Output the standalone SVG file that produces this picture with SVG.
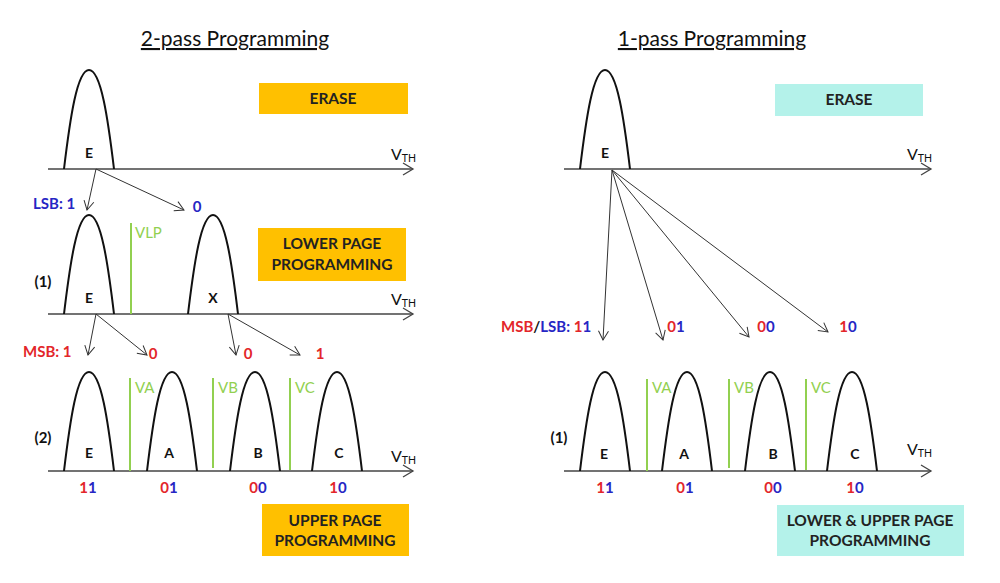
<svg xmlns="http://www.w3.org/2000/svg" xmlns:xlink="http://www.w3.org/1999/xlink" width="1000" height="583" viewBox="0 0 1000 583">
<style>
text{font-family:Lato,"Open Sans","Liberation Sans",sans-serif}
.title{font-size:21px;fill:#111;text-decoration:underline}
.bell{fill:none;stroke:#111;stroke-width:2}
.axis{stroke:#444;stroke-width:1.3;fill:none}
.ah{stroke:#444;stroke-width:1.3;fill:none}
.conn{stroke:#333;stroke-width:1;fill:none;marker-end:url(#arr)}
.vl{stroke:#92D050;stroke-width:2}
.vt{fill:#92D050;font-size:15px}
.lbl{font-size:14px;font-weight:bold;fill:#111;text-anchor:middle}
.v{font-size:16px;fill:#111}
.sub{font-size:10.5px}
.code{font-size:15px;font-weight:bold;text-anchor:middle}
.r{fill:#E3262A}
.b{fill:#2626C4}
.k{fill:#111}
.box{font-size:15.5px;font-weight:bold;fill:#222;text-anchor:middle}
.org{fill:#FFC000}
.cy{fill:#B4F2EA}
</style>
<defs>
<path id="bell" d="M0,0 C6,-50 13,-99 25,-99 C37,-99 44,-50 50,0"/>
<path id="head" d="M-10,-6 L0,0 L-10,6"/>
<marker id="arr" markerUnits="userSpaceOnUse" markerWidth="12" markerHeight="12" refX="10" refY="6" orient="auto">
<path d="M1,1 L10,6 L1,11" fill="none" stroke="#333" stroke-width="1"/>
</marker>
</defs>

<g id="left-title"><text class="title" x="235" y="46" text-anchor="middle">2-pass Programming</text></g>
<g id="right-title"><text class="title" x="712" y="46" text-anchor="middle">1-pass Programming</text></g>

<!-- Left row 0: erase -->
<g id="l-axis0">
<line class="axis" x1="48" y1="169" x2="413" y2="169"/>
<use href="#head" class="ah" x="413" y="169"/>
<text class="v" x="391" y="160">V<tspan class="sub" dy="2">TH</tspan></text>
</g>
<g id="l-E0"><use href="#bell" class="bell" x="64" y="169"/><text class="lbl" x="89" y="158">E</text></g>
<g id="l-erase-box"><rect class="org" x="259" y="83" width="149" height="31"/><text class="box" x="333" y="104">ERASE</text></g>

<!-- Left row 1 -->
<g id="l-axis1">
<line class="axis" x1="48" y1="314" x2="413" y2="314"/>
<use href="#head" class="ah" x="413" y="314"/>
<text class="v" x="391" y="305">V<tspan class="sub" dy="2">TH</tspan></text>
<text class="lbl" x="43" y="287" style="font-size:15px">(1)</text>
</g>
<g id="l-E1"><use href="#bell" class="bell" x="64" y="314"/><text class="lbl" x="89" y="303">E</text></g>
<g id="l-VLP"><line class="vl" x1="131" y1="223" x2="131" y2="314"/><text class="vt" x="135" y="238">VLP</text></g>
<g id="l-X1"><use href="#bell" class="bell" x="188" y="314"/><text class="lbl" x="213" y="303">X</text></g>
<g id="l-lower-box"><rect class="org" x="258" y="228" width="148" height="53"/><text class="box" x="332" y="249">LOWER PAGE</text><text class="box" x="332" y="270">PROGRAMMING</text></g>

<!-- Left row 2 -->
<g id="l-axis2">
<line class="axis" x1="48" y1="471" x2="413" y2="471"/>
<use href="#head" class="ah" x="413" y="471"/>
<text class="v" x="391" y="462">V<tspan class="sub" dy="2">TH</tspan></text>
<text class="lbl" x="43" y="443" style="font-size:15px">(2)</text>
</g>
<g id="l-E2"><use href="#bell" class="bell" x="64" y="471"/><text class="lbl" x="89" y="458">E</text></g>
<g id="l-VA"><line class="vl" x1="130" y1="378" x2="130" y2="471"/><text class="vt" x="135" y="393">VA</text></g>
<g id="l-A2"><use href="#bell" class="bell" x="147" y="471"/><text class="lbl" x="169" y="458">A</text></g>
<g id="l-VB"><line class="vl" x1="213" y1="378" x2="213" y2="468"/><text class="vt" x="218" y="393">VB</text></g>
<g id="l-B2"><use href="#bell" class="bell" x="230" y="471"/><text class="lbl" x="258" y="458">B</text></g>
<g id="l-VC"><line class="vl" x1="290" y1="378" x2="290" y2="470"/><text class="vt" x="295" y="393">VC</text></g>
<g id="l-C2"><use href="#bell" class="bell" x="312" y="471"/><text class="lbl" x="339" y="458">C</text></g>
<g id="l-codes">
<text class="code" x="88" y="493"><tspan class="r">1</tspan><tspan class="b">1</tspan></text>
<text class="code" x="169" y="493"><tspan class="r">0</tspan><tspan class="b">1</tspan></text>
<text class="code" x="258" y="493"><tspan class="r">0</tspan><tspan class="b">0</tspan></text>
<text class="code" x="338" y="493"><tspan class="r">1</tspan><tspan class="b">0</tspan></text>
</g>
<g id="l-upper-box"><rect class="org" x="262" y="504" width="147" height="52"/><text class="box" x="335" y="526">UPPER PAGE</text><text class="box" x="335" y="546">PROGRAMMING</text></g>

<!-- Left transition labels -->
<g id="l-labels">
<text class="code b" x="33" y="209" style="text-anchor:start">LSB: 1</text>
<text class="code b" x="197" y="212">0</text>
<text class="code r" x="23" y="357" style="text-anchor:start">MSB: 1</text>
<text class="code r" x="153" y="359">0</text>
<text class="code r" x="248" y="359">0</text>
<text class="code r" x="320" y="359">1</text>
</g>

<!-- Right top -->
<g id="r-axis0">
<line class="axis" x1="564" y1="169" x2="931" y2="169"/>
<use href="#head" class="ah" x="931" y="169"/>
<text class="v" x="907" y="160">V<tspan class="sub" dy="2">TH</tspan></text>
</g>
<g id="r-E0"><use href="#bell" class="bell" x="580" y="169"/><text class="lbl" x="605" y="158">E</text></g>
<g id="r-erase-box"><rect class="cy" x="775" y="84" width="148" height="32"/><text class="box" x="849" y="105">ERASE</text></g>
<g id="r-labels">
<text class="code" x="501" y="332" style="text-anchor:start"><tspan class="r">MSB</tspan><tspan class="k">/</tspan><tspan class="b">LSB: </tspan><tspan class="r">1</tspan><tspan class="b">1</tspan></text>
<text class="code" x="676" y="332"><tspan class="r">0</tspan><tspan class="b">1</tspan></text>
<text class="code" x="766" y="332"><tspan class="r">0</tspan><tspan class="b">0</tspan></text>
<text class="code" x="848" y="332"><tspan class="r">1</tspan><tspan class="b">0</tspan></text>
</g>

<!-- Right bottom -->
<g id="r-axis1">
<line class="axis" x1="564" y1="471" x2="931" y2="471"/>
<use href="#head" class="ah" x="931" y="471"/>
<text class="v" x="907" y="455">V<tspan class="sub" dy="2">TH</tspan></text>
<text class="lbl" x="559" y="443" style="font-size:15px">(1)</text>
</g>
<g id="r-E1"><use href="#bell" class="bell" x="580" y="471"/><text class="lbl" x="604" y="459">E</text></g>
<g id="r-VA"><line class="vl" x1="647" y1="379" x2="647" y2="471"/><text class="vt" x="652" y="393">VA</text></g>
<g id="r-A1"><use href="#bell" class="bell" x="662" y="471"/><text class="lbl" x="684" y="459">A</text></g>
<g id="r-VB"><line class="vl" x1="729" y1="379" x2="729" y2="468"/><text class="vt" x="734" y="393">VB</text></g>
<g id="r-B1"><use href="#bell" class="bell" x="745" y="471"/><text class="lbl" x="773" y="459">B</text></g>
<g id="r-VC"><line class="vl" x1="806" y1="379" x2="806" y2="470"/><text class="vt" x="811" y="393">VC</text></g>
<g id="r-C1"><use href="#bell" class="bell" x="827" y="471"/><text class="lbl" x="855" y="459">C</text></g>
<g id="r-codes">
<text class="code" x="605" y="493"><tspan class="r">1</tspan><tspan class="b">1</tspan></text>
<text class="code" x="685" y="493"><tspan class="r">0</tspan><tspan class="b">1</tspan></text>
<text class="code" x="773" y="493"><tspan class="r">0</tspan><tspan class="b">0</tspan></text>
<text class="code" x="855" y="493"><tspan class="r">1</tspan><tspan class="b">0</tspan></text>
</g>
<g id="r-box"><rect class="cy" x="777" y="505" width="187" height="51"/><text class="box" x="870" y="526">LOWER &amp; UPPER PAGE</text><text class="box" x="870" y="546">PROGRAMMING</text></g>

<!-- Connectors -->
<g id="connectors">
<line class="conn" x1="96" y1="169" x2="87" y2="210"/>
<line class="conn" x1="96" y1="169" x2="184" y2="210"/>
<line class="conn" x1="96" y1="314" x2="88" y2="355"/>
<line class="conn" x1="96" y1="314" x2="147" y2="355"/>
<line class="conn" x1="228" y1="314" x2="236" y2="355"/>
<line class="conn" x1="228" y1="314" x2="300" y2="355"/>
<line class="conn" x1="612" y1="170" x2="603" y2="340"/>
<line class="conn" x1="612" y1="170" x2="663" y2="340"/>
<line class="conn" x1="612" y1="170" x2="749" y2="337"/>
<line class="conn" x1="612" y1="170" x2="828" y2="332"/>
</g>
</svg>
